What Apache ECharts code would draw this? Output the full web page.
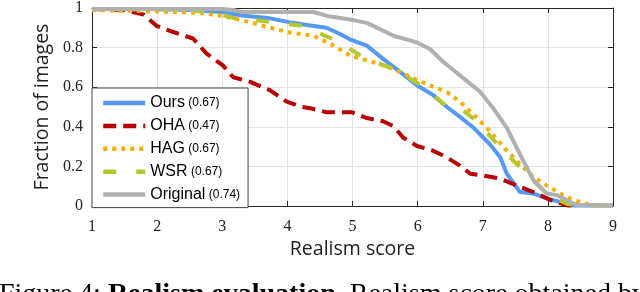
<!DOCTYPE html>
<html>
<head>
<meta charset="utf-8">
<script src="https://cdn.jsdelivr.net/npm/echarts@6/dist/echarts.min.js"></script>
<style>
html,body{margin:0;padding:0;background:#fff;}
#c{width:640px;height:292px;}
</style>
</head>
<body>
<div id="c"></div>
<script>
var seriesNames = ['Ours', 'OHA', 'HAG', 'WSR', 'Original'];
var seriesScores = ['0.67', '0.47', '0.67', '0.67', '0.74'];
var xTicks = [1, 2, 3, 4, 5, 6, 7, 8, 9];
var yTicks = [0, 0.2, 0.4, 0.6, 0.8, 1];

var ours = [[1,0.995],[2.0,0.995],[2.5,0.99],[3.0,0.98],[3.3,0.962],[3.7,0.95],[4.0,0.93],[4.35,0.912],[4.6,0.90],[4.8,0.87],[4.96,0.842],[5.22,0.81],[5.47,0.743],[5.73,0.677],[5.99,0.61],[6.24,0.56],[6.45,0.50],[6.65,0.45],[6.86,0.395],[7.11,0.312],[7.27,0.245],[7.37,0.163],[7.57,0.071],[7.78,0.063],[7.98,0.038],[8.19,0.021],[8.39,0.003],[9,0.003]];
var oha = [[1,0.995],[1.48,0.99],[1.79,0.967],[1.99,0.91],[2.24,0.88],[2.55,0.846],[2.76,0.77],[3.01,0.71],[3.17,0.65],[3.43,0.627],[3.73,0.585],[3.99,0.527],[4.2,0.502],[4.35,0.494],[4.61,0.473],[4.99,0.473],[5.22,0.444],[5.47,0.428],[5.63,0.403],[5.78,0.345],[5.99,0.303],[6.24,0.279],[6.45,0.245],[6.65,0.204],[6.81,0.163],[7.01,0.154],[7.27,0.138],[7.52,0.104],[7.83,0.063],[8.04,0.03],[8.3,0.003],[8.4,0.003]];
var hag = [[1,0.99],[1.99,0.983],[2.66,0.975],[3.01,0.96],[3.47,0.925],[3.68,0.905],[4.04,0.876],[4.4,0.86],[4.71,0.81],[4.96,0.76],[5.32,0.726],[5.63,0.693],[5.88,0.652],[6.24,0.602],[6.45,0.575],[6.65,0.527],[6.86,0.461],[7.11,0.378],[7.37,0.279],[7.57,0.212],[7.78,0.146],[7.98,0.104],[8.19,0.063],[8.39,0.03],[8.6,0.01],[8.8,0.003],[9,0.003]];
var wsr = [[1,0.995],[2.5,0.99],[3.0,0.965],[3.17,0.95],[3.78,0.929],[4.24,0.909],[4.3,0.90],[4.76,0.834],[5.17,0.751],[5.68,0.685],[6.09,0.602],[6.35,0.53],[6.45,0.502],[6.65,0.494],[6.91,0.428],[7.27,0.295],[7.62,0.179],[7.93,0.08],[8.1,0.04],[8.3,0.01],[8.5,0.003],[9,0.003]];
var original = [[1,0.995],[3.0,0.995],[3.17,0.99],[3.3,0.98],[4.4,0.98],[4.61,0.96],[4.96,0.942],[5.22,0.925],[5.63,0.86],[5.99,0.826],[6.19,0.793],[6.40,0.726],[6.65,0.66],[6.96,0.577],[7.16,0.494],[7.37,0.395],[7.57,0.262],[7.78,0.129],[7.98,0.063],[8.14,0.055],[8.34,0.021],[8.45,0.005],[9,0.003]];

var seriesData = [ours, oha, hag, wsr, original];
var seriesColors = ['#5599f5', '#b80000', '#f7b000', '#b5c92e', '#b0b0b0'];
var seriesDash = ['solid', [13, 7], [4, 5], [13, 20], 'solid'];
var seriesWidths = [4, 4, 4, 4, 4];

var scoreMap = {};
seriesNames.forEach(function (n, i) { scoreMap[n] = seriesScores[i]; });

var axisLineStyle = { color: '#262626', width: 1 };
var tickFont = { fontFamily: 'Liberation Serif', fontSize: 16, color: '#222' };
var nameFont = { fontFamily: 'Open Sans', fontSize: 19.5, color: '#222' };

var chart = echarts.init(document.getElementById('c'), null, { renderer: 'canvas' });
chart.setOption({
  animation: false,
  backgroundColor: '#fff',
  grid: { left: 92, right: 27, top: 5, bottom: 86, containLabel: false },
  xAxis: [{
    type: 'value', min: xTicks[0], max: xTicks[xTicks.length - 1], interval: 1, position: 'bottom',
    axisLine: { show: true, onZero: false, lineStyle: axisLineStyle },
    axisTick: { show: true, inside: true, length: 5, lineStyle: axisLineStyle },
    splitLine: { show: true, lineStyle: { color: '#e3e3e3', width: 1 } },
    axisLabel: Object.assign({ margin: 13 }, tickFont),
    name: 'Realism score', nameLocation: 'middle', nameGap: 30,
    nameTextStyle: nameFont
  }, {
    type: 'value', min: xTicks[0], max: xTicks[xTicks.length - 1], interval: 1, position: 'top',
    axisLine: { show: true, onZero: false, lineStyle: axisLineStyle },
    axisTick: { show: true, inside: true, length: 5, lineStyle: axisLineStyle },
    splitLine: { show: false }, axisLabel: { show: false }
  }],
  yAxis: [{
    type: 'value', min: yTicks[0], max: yTicks[yTicks.length - 1], interval: 0.2, position: 'left',
    axisLine: { show: true, onZero: false, lineStyle: axisLineStyle },
    axisTick: { show: true, inside: true, length: 5, lineStyle: axisLineStyle },
    splitLine: { show: true, lineStyle: { color: '#e3e3e3', width: 1 } },
    axisLabel: Object.assign({ margin: 9 }, tickFont),
    name: 'Fraction of images', nameLocation: 'middle', nameGap: 36, nameRotate: 90,
    nameTextStyle: nameFont
  }, {
    type: 'value', min: yTicks[0], max: yTicks[yTicks.length - 1], interval: 0.2, position: 'right',
    axisLine: { show: true, onZero: false, lineStyle: axisLineStyle },
    axisTick: { show: true, inside: true, length: 5, lineStyle: axisLineStyle },
    splitLine: { show: false }, axisLabel: { show: false }
  }],
  legend: {
    orient: 'vertical', left: 92, top: 88,
    backgroundColor: '#fff', borderColor: '#444', borderWidth: 1, borderRadius: 0,
    padding: [7, 8, 5, 9],
    itemWidth: 42, itemHeight: 14, itemGap: 6.9,
    itemStyle: { opacity: 0 },
    lineStyle: { width: 4.5 },
    data: seriesNames,
    formatter: function (name) { return '{n|' + name + '} {s|(' + scoreMap[name] + ')}'; },
    textStyle: {
      rich: {
        n: { fontFamily: 'Liberation Sans', fontSize: 16, color: '#000', lineHeight: 14 },
        s: { fontFamily: 'Liberation Sans', fontSize: 12, color: '#000', lineHeight: 14 }
      }
    }
  },
  graphic: [{
    type: 'text', left: -1, top: 281,
    style: {
      text: 'Figure 4: {b|Realism evaluation.} Realism score obtained by each method',
      font: '28px "Liberation Serif"', fill: '#000',
      rich: { b: { fontFamily: 'Liberation Serif', fontSize: 28, fontWeight: 'bold' } }
    }
  }],
  series: seriesNames.map(function (n, i) {
    return {
      name: n, type: 'line', data: seriesData[i], xAxisIndex: 0, yAxisIndex: 0,
      symbol: 'none', showSymbol: false, smooth: false, clip: false,
      lineStyle: { color: seriesColors[i], width: seriesWidths[i], type: seriesDash[i], cap: 'butt', join: 'round' },
      itemStyle: { color: seriesColors[i] }
    };
  })
});
</script>
</body>
</html>
